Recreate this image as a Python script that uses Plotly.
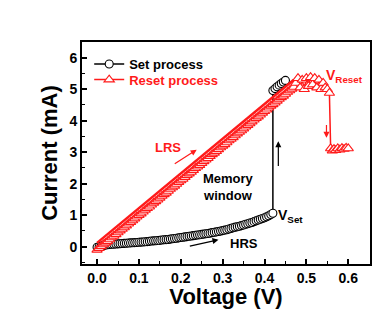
import plotly.graph_objects as go

# ---------------- data ----------------
set_v = [0.000, 0.005, 0.010, 0.015, 0.020, 0.025, 0.030, 0.035, 0.040, 0.045,
         0.050, 0.055, 0.060, 0.065, 0.070, 0.075, 0.080, 0.085, 0.090, 0.095,
         0.100, 0.105, 0.110, 0.115, 0.120, 0.125, 0.130, 0.135, 0.140, 0.145,
         0.150, 0.155, 0.160, 0.165, 0.170, 0.175, 0.180, 0.185, 0.190, 0.195,
         0.200, 0.205, 0.210, 0.215, 0.220, 0.225, 0.230, 0.235, 0.240, 0.245,
         0.250, 0.255, 0.260, 0.265, 0.270, 0.275, 0.280, 0.285, 0.290, 0.295,
         0.300, 0.305, 0.310, 0.315, 0.320, 0.325, 0.330, 0.335, 0.340, 0.345,
         0.350, 0.355, 0.360, 0.365, 0.370, 0.375, 0.380, 0.385, 0.390, 0.395,
         0.400, 0.405, 0.410, 0.415, 0.420,
         0.420, 0.425, 0.430, 0.435, 0.440, 0.445, 0.450]
set_i = [-0.02, 0.00, 0.02, 0.04, 0.05, 0.06, 0.07, 0.075, 0.08, 0.085,
         0.09, 0.095, 0.10, 0.105, 0.11, 0.115, 0.12, 0.125, 0.13, 0.135,
         0.14, 0.145, 0.15, 0.155, 0.16, 0.17, 0.18, 0.185, 0.19, 0.195,
         0.20, 0.21, 0.22, 0.225, 0.23, 0.24, 0.25, 0.26, 0.27, 0.28,
         0.29, 0.30, 0.31, 0.32, 0.33, 0.34, 0.35, 0.36, 0.37, 0.38,
         0.39, 0.40, 0.41, 0.42, 0.43, 0.445, 0.46, 0.47, 0.48, 0.495,
         0.51, 0.525, 0.54, 0.56, 0.58, 0.60, 0.62, 0.635, 0.65, 0.67,
         0.69, 0.71, 0.73, 0.75, 0.77, 0.795, 0.82, 0.845, 0.87, 0.895,
         0.92, 0.95, 0.98, 1.02, 1.06,
         4.96, 5.02, 5.08, 5.13, 5.18, 5.23, 5.28]

reset_v = [0.000, 0.005, 0.010, 0.015, 0.020, 0.025, 0.030, 0.035, 0.040, 0.045,
           0.050, 0.055, 0.060, 0.065, 0.070, 0.075, 0.080, 0.085, 0.090, 0.095,
           0.100, 0.105, 0.110, 0.115, 0.120, 0.125, 0.130, 0.135, 0.140, 0.145,
           0.150, 0.155, 0.160, 0.165, 0.170, 0.175, 0.180, 0.185, 0.190, 0.195,
           0.200, 0.205, 0.210, 0.215, 0.220, 0.225, 0.230, 0.235, 0.240, 0.245,
           0.250, 0.255, 0.260, 0.265, 0.270, 0.275, 0.280, 0.285, 0.290, 0.295,
           0.300, 0.305, 0.310, 0.315, 0.320, 0.325, 0.330, 0.335, 0.340, 0.345,
           0.350, 0.355, 0.360, 0.365, 0.370, 0.375, 0.380, 0.385, 0.390, 0.395,
           0.400, 0.405, 0.410, 0.415, 0.420, 0.425, 0.430, 0.435, 0.440, 0.445,
           0.450, 0.455, 0.460, 0.465, 0.470,
           0.475, 0.480, 0.485, 0.490, 0.495, 0.500, 0.505, 0.510, 0.515, 0.520,
           0.525, 0.530, 0.535, 0.540, 0.545, 0.550, 0.555,
           0.558, 0.562, 0.566, 0.570, 0.575, 0.580, 0.585, 0.590, 0.595, 0.600]
reset_i = [-0.10, -0.05, 0.01, 0.07, 0.12, 0.17, 0.23, 0.29, 0.34, 0.39,
           0.45, 0.51, 0.56, 0.61, 0.67, 0.73, 0.78, 0.83, 0.89, 0.95,
           1.00, 1.05, 1.11, 1.17, 1.22, 1.27, 1.33, 1.39, 1.44, 1.49,
           1.55, 1.61, 1.66, 1.71, 1.77, 1.83, 1.88, 1.93, 1.99, 2.05,
           2.10, 2.15, 2.21, 2.27, 2.32, 2.37, 2.43, 2.49, 2.54, 2.59,
           2.65, 2.71, 2.76, 2.81, 2.87, 2.93, 2.98, 3.03, 3.09, 3.15,
           3.20, 3.25, 3.31, 3.37, 3.42, 3.47, 3.53, 3.59, 3.64, 3.69,
           3.75, 3.81, 3.86, 3.91, 3.97, 4.03, 4.08, 4.13, 4.19, 4.25,
           4.30, 4.35, 4.41, 4.47, 4.52, 4.57, 4.63, 4.69, 4.74, 4.79,
           4.85, 4.91, 4.96, 5.01, 5.07,
           5.20, 5.35, 5.05, 5.30, 5.00, 5.35, 5.10, 5.38, 5.15, 5.35,
           5.05, 5.30, 5.00, 5.20, 5.05, 5.00, 4.88,
           3.12, 3.05, 3.10, 3.06, 3.12, 3.08, 3.13, 3.10, 3.14, 3.12]

lrs_line_v = [0.00, 0.10, 0.20, 0.30, 0.40, 0.47]
lrs_line_i = [0.12, 1.22, 2.32, 3.42, 4.52, 5.30]

x_ticks = [0.0, 0.1, 0.2, 0.3, 0.4, 0.5, 0.6]
y_ticks = [0, 1, 2, 3, 4, 5, 6]

FONT = "Liberation Sans"
RED = "#ff1a1a"

fig = go.Figure()

fig.add_trace(go.Scatter(
    x=set_v, y=set_i, mode="lines+markers", name="<b>Set process</b>",
    legend="legend",
    line=dict(color="black", width=1.5),
    marker=dict(symbol="circle", size=8, color="white",
                line=dict(color="black", width=1.1)),
))
fig.add_trace(go.Scatter(
    x=reset_v, y=reset_i, mode="lines+markers", name="<b>Reset process</b>",
    legend="legend2",
    line=dict(color=RED, width=1.5),
    marker=dict(symbol="triangle-up", size=9, color="white",
                line=dict(color=RED, width=1.1)),
))
fig.add_trace(go.Scatter(
    x=lrs_line_v, y=lrs_line_i, mode="lines", showlegend=False,
    line=dict(color=RED, width=2.5), hoverinfo="skip",
))

def txt(x, y, t, color="black", size=13):
    fig.add_annotation(x=x, y=y, text=t, showarrow=False, xref="x", yref="y",
                       font=dict(family=FONT, size=size, color=color))

def arrow(x0, y0, x1, y1, color):
    fig.add_annotation(x=x1, y=y1, ax=x0, ay=y0, xref="x", yref="y",
                       axref="x", ayref="y", text=" ", showarrow=True,
                       arrowhead=2, arrowsize=1, arrowwidth=1.2,
                       arrowcolor=color, font=dict(size=1))

txt(0.17, 3.15, "<b>LRS</b>", RED)
txt(0.313, 1.9, "<b>Memory<br>window</b>")
txt(0.352, 0.09, "<b>HRS</b>")
txt(0.462, 0.99, "<b>V<sub>Set</sub></b>", size=14)
txt(0.59, 5.42, "<b>V<sub>Reset</sub></b>", RED, size=14)

arrow(0.182, 2.6, 0.238, 3.08, RED)
arrow(0.218, 0.01, 0.29, 0.22, "black")
arrow(0.433, 2.5, 0.433, 3.35, "black")
arrow(0.548, 3.93, 0.548, 3.46, RED)

axis_common = dict(
    showgrid=False, zeroline=False, showline=True, linecolor="black",
    linewidth=1.8, mirror=True, ticks="inside", ticklen=5, tickwidth=1.5,
    tickcolor="black",
    tickfont=dict(family=FONT, size=14, color="black", weight="bold"),
)

fig.update_xaxes(
    range=[-0.036, 0.652], tickvals=x_ticks,
    ticktext=[f"{v:.1f}" for v in x_ticks],
    minor=dict(dtick=0.05, ticks="inside", ticklen=3, tickcolor="black",
               tickwidth=1.2, tick0=0),
    title=dict(text="Voltage (V)", standoff=0,
               font=dict(family=FONT, size=22, color="black", weight="bold")),
    **axis_common,
)
fig.update_yaxes(
    range=[-0.55, 6.5], tickvals=y_ticks,
    minor=dict(dtick=0.5, ticks="inside", ticklen=3, tickcolor="black",
               tickwidth=1.2, tick0=0),
    title=dict(text="Current (mA)", standoff=6,
               font=dict(family=FONT, size=22, color="black", weight="bold")),
    **axis_common,
)

legend_common = dict(xanchor="left", yanchor="top", bgcolor="rgba(0,0,0,0)",
                     borderwidth=0, itemwidth=30)
fig.update_layout(
    width=386, height=309,
    margin=dict(l=82, r=16, t=42, b=45, autoexpand=False),
    paper_bgcolor="white", plot_bgcolor="white",
    font=dict(family=FONT, color="black"),
    showlegend=True,
    legend=dict(x=0.025, y=0.968,
                font=dict(family=FONT, size=13, color="black"),
                **legend_common),
    legend2=dict(x=0.025, y=0.898,
                 font=dict(family=FONT, size=13, color=RED),
                 **legend_common),
)

fig.write_html(
    "out.html",
    config={"displayModeBar": False},
    post_script="document.body.style.margin='0';document.body.style.overflow='hidden';",
)
